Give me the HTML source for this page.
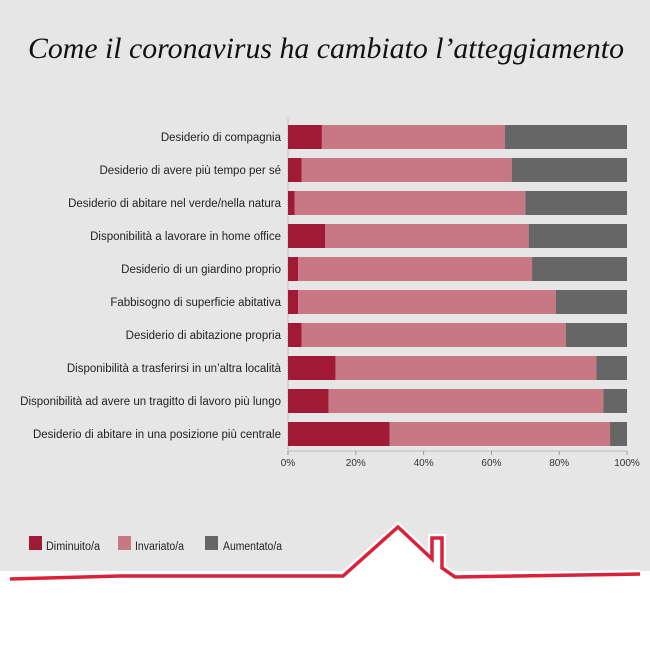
<!DOCTYPE html>
<html><head><meta charset="utf-8"><style>
html,body{margin:0;padding:0;background:#fff}
svg{display:block}
text{font-family:"Liberation Sans",sans-serif}
</style></head><body>
<svg width="650" height="650" viewBox="0 0 650 650">
<rect x="0" y="0" width="650" height="571" fill="#e6e6e6"/>
<text x="326" y="58" text-anchor="middle" font-family="Liberation Serif" font-style="italic" font-size="30" fill="#111" textLength="596" lengthAdjust="spacingAndGlyphs" style="font-family:'Liberation Serif',serif">Come il coronavirus ha cambiato l’atteggiamento</text>
<line x1="288" y1="118" x2="288" y2="452" stroke="#999" stroke-width="1" stroke-dasharray="1,1"/>
<line x1="288" y1="451" x2="627" y2="451" stroke="#bbb" stroke-width="1"/>
<g id="bars"></g>
<g id="ticks"></g>
<g id="labels"></g>
<g>
<rect x="29" y="536" width="13" height="14" fill="#a01a35"/>
<text x="46" y="550" font-size="11.5" fill="#222" textLength="54" lengthAdjust="spacingAndGlyphs">Diminuito/a</text>
<rect x="118" y="536" width="13" height="14" fill="#c87885"/>
<text x="135" y="550" font-size="11.5" fill="#222" textLength="49" lengthAdjust="spacingAndGlyphs">Invariato/a</text>
<rect x="205" y="536" width="13" height="14" fill="#666"/>
<text x="223" y="550" font-size="11.5" fill="#222" textLength="59" lengthAdjust="spacingAndGlyphs">Aumentato/a</text>
</g>
<g>
<polygon points="343,576 398,527 432,559 432,538 442,538 442,568 455,577" fill="#fff" stroke="#fff" stroke-width="8" stroke-linejoin="miter"/>
<polyline points="10,579 120,576 343,576 398,527 432,559 432,538 442,538 442,568 455,577 640,574" fill="none" stroke="#fff" stroke-width="8" stroke-linejoin="miter"/>
<polyline points="10,579 120,576 343,576 398,527 432,559 432,538 442,538 442,568 455,577 640,574" fill="none" stroke="#d9213a" stroke-width="3.5" stroke-linejoin="miter"/>
</g>
</svg>
<script>
const categories=["Desiderio di compagnia","Desiderio di avere più tempo per sé","Desiderio di abitare nel verde/nella natura","Disponibilità a lavorare in home office","Desiderio di un giardino proprio","Fabbisogno di superficie abitativa","Desiderio di abitazione propria","Disponibilità a trasferirsi in un’altra località","Disponibilità ad avere un tragitto di lavoro più lungo","Desiderio di abitare in una posizione più centrale"];
const diminuito=[10,4,2,11,3,3,4,14,12,30];
const invariato=[54,62,68,60,69,76,78,77,81,65];
const aumentato=[36,34,30,29,28,21,18,9,7,5];
const tickValues=[0,20,40,60,80,100];
const tickLabels=["0%","20%","40%","60%","80%","100%"];
const NS="http://www.w3.org/2000/svg";
const x=v=>288+v*3.39;
const y=i=>125+i*33;
const bh=24;
const bars=document.getElementById('bars'),ticks=document.getElementById('ticks'),labels=document.getElementById('labels');
const series=[["diminuito",diminuito,"#a01a35"],["invariato",invariato,"#c87885"],["aumentato",aumentato,"#666"]];
categories.forEach((c,i)=>{
  let acc=0;
  series.forEach(([n,arr,col])=>{
    const r=document.createElementNS(NS,'rect');
    r.setAttribute('x',x(acc));r.setAttribute('y',y(i));
    r.setAttribute('width',x(acc+arr[i])-x(acc));r.setAttribute('height',bh);
    r.setAttribute('fill',col);
    
    
    bars.appendChild(r);acc+=arr[i];
  });
  const t=document.createElementNS(NS,'text');
  t.setAttribute('x',281);t.setAttribute('y',y(i)+bh/2+4);
  t.setAttribute('text-anchor','end');t.setAttribute('font-size','11.5');t.setAttribute('fill','#222');
  t.textContent=c;
  
  
  labels.appendChild(t);
});
tickValues.forEach((v,k)=>{
  const t=document.createElementNS(NS,'text');
  t.setAttribute('x',x(v));t.setAttribute('y',466);
  t.setAttribute('text-anchor','middle');t.setAttribute('font-size','10');t.setAttribute('fill','#333');
  t.textContent=tickLabels[k];
  
  
  ticks.appendChild(t);
  const l=document.createElementNS(NS,'line');
  l.setAttribute('x1',x(v));l.setAttribute('x2',x(v));l.setAttribute('y1',451);l.setAttribute('y2',455);
  l.setAttribute('stroke','#999');
  
  
  ticks.appendChild(l);
});
</script>
</body></html>
